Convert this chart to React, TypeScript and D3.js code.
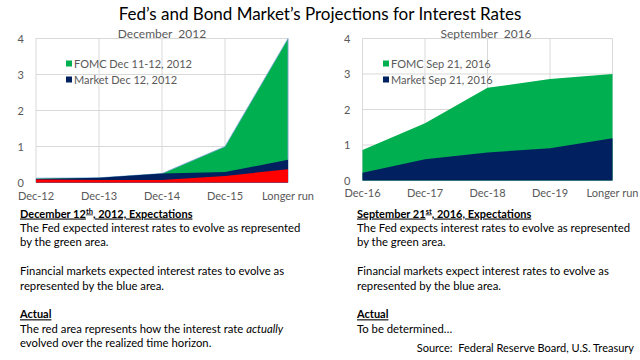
import React, { useEffect, useRef } from "react";
import * as d3 from "d3";

// December 2012 panel
const catsDec2012 = ["Dec-12", "Dec-13", "Dec-14", "Dec-15", "Longer run"];
const fomcDec2012 = [0.12, 0.13, 0.25, 1.0, 4.0];
const marketDec2012 = [0.1, 0.13, 0.25, 0.29, 0.63];
const actualDec2012 = [0.08, 0.07, 0.07, 0.18, 0.37];

// September 2016 panel
const catsSep2016 = ["Dec-16", "Dec-17", "Dec-18", "Dec-19", "Longer run"];
const fomcSep2016 = [0.86, 1.61, 2.61, 2.86, 3.0];
const marketSep2016 = [0.22, 0.6, 0.79, 0.91, 1.19];

const yTicks = [0, 1, 2, 3, 4];

const GREEN = "#00b050";
const NAVY = "#002060";
const RED = "#ff0000";
const FONT = "Lato, 'Open Sans', sans-serif";

function drawPanel(svg, opts) {
  const { left, right, top, bottom, cats, series, subtitle, subX, legend, xLabDy } = opts;
  const g = svg.append("g").attr("class", "panel");

  const x = d3.scalePoint().domain(cats).range([left, right]);
  const y = d3.scaleLinear().domain([0, 4]).range([bottom, top]);

  // grid
  g.selectAll(".hgrid")
    .data(yTicks)
    .enter()
    .append("line")
    .attr("x1", left)
    .attr("x2", right)
    .attr("y1", (d) => y(d))
    .attr("y2", (d) => y(d))
    .attr("stroke", "#d9d9d9")
    .attr("stroke-width", 1);
  g.selectAll(".vgrid")
    .data(cats)
    .enter()
    .append("line")
    .attr("x1", (d) => x(d))
    .attr("x2", (d) => x(d))
    .attr("y1", top)
    .attr("y2", bottom)
    .attr("stroke", "#d9d9d9")
    .attr("stroke-width", 1);

  // areas, drawn back to front (overlapping, not stacked)
  series.forEach((s) => {
    const area = d3
      .area()
      .x((d, i) => x(cats[i]))
      .y0(bottom)
      .y1((d) => y(d));
    g.append("path")
      .datum(s.values)
      .attr("d", area)
      .attr("fill", s.color)
      .attr("stroke", s.stroke || "none")
      .attr("stroke-width", 0.8);
  });

  // y labels
  g.selectAll(".ylab")
    .data(yTicks)
    .enter()
    .append("text")
    .attr("x", left - 12)
    .attr("y", (d) => y(d) + 4)
    .attr("text-anchor", "end")
    .attr("font-size", 11)
    .attr("fill", "#595959")
    .text((d) => d);

  // x labels
  g.selectAll(".xlab")
    .data(cats)
    .enter()
    .append("text")
    .attr("x", (d) => x(d))
    .attr("y", bottom + xLabDy)
    .attr("text-anchor", "middle")
    .attr("font-size", 11)
    .attr("fill", "#595959")
    .text((d) => d);

  g.append("text")
    .attr("x", subX)
    .attr("y", top - 1)
    .attr("text-anchor", "middle")
    .attr("font-size", 12)
    .attr("fill", "#595959")
    .attr("xml:space", "preserve")
    .text(subtitle);

  legend.items.forEach((it, i) => {
    const ly = legend.y + i * 16;
    g.append("rect")
      .attr("x", legend.x)
      .attr("y", ly - 7)
      .attr("width", 6)
      .attr("height", 6)
      .attr("fill", it.color);
    g.append("text")
      .attr("x", legend.x + 8)
      .attr("y", ly)
      .attr("font-size", 11)
      .attr("fill", "#595959")
      .text(it.label);
  });
}

function drawNotes(svg, x0, heading, sup, headingRest, lines) {
  const g = svg.append("g").attr("font-size", 11.3).attr("fill", "#000");
  const lh = 14.4;
  const y0 = 217.5;

  const h = g
    .append("text")
    .attr("x", x0)
    .attr("y", y0)
    .attr("font-size", 11)
    .attr("font-weight", "bold")
    .attr("text-decoration", "underline");
  h.append("tspan").text(heading);
  h.append("tspan").attr("dy", -4).attr("font-size", 7.5).text(sup);
  h.append("tspan").attr("dy", 4).text(headingRest);

  lines.forEach((ln) => {
    const t = g
      .append("text")
      .attr("x", x0)
      .attr("y", y0 + ln.row * lh);
    if (ln.bold) t.attr("font-weight", "bold").attr("font-size", 11).attr("text-decoration", "underline");
    ln.parts.forEach((p) => {
      const sp = t.append("tspan").text(p.text);
      if (p.italic) sp.attr("font-style", "italic");
    });
  });
}

export default function App() {
  const ref = useRef(null);

  useEffect(() => {
    const svg = d3.select(ref.current);
    svg.selectAll("*").remove();
    svg.attr("font-family", FONT);

    svg.append("rect").attr("width", 640).attr("height", 360).attr("fill", "#fff");

    svg.append("text")
      .attr("x", 320)
      .attr("y", 20)
      .attr("text-anchor", "middle")
      .attr("font-size", 17)
      .attr("fill", "#000")
      .text("Fed\u2019s and Bond Market\u2019s Projections for Interest Rates");

    drawPanel(svg, {
      left: 36,
      right: 288,
      top: 38.5,
      bottom: 182.5,
      cats: catsDec2012,
      subtitle: "December  2012",
      subX: 162,
      xLabDy: 17.5,
      series: [
        { values: fomcDec2012, color: GREEN, stroke: "#7fa8dc" },
        { values: marketDec2012, color: NAVY },
        { values: actualDec2012, color: RED },
      ],
      legend: {
        x: 66,
        y: 67.5,
        items: [
          { color: GREEN, label: "FOMC Dec 11-12, 2012" },
          { color: NAVY, label: "Market Dec 12, 2012" },
        ],
      },
    });

    drawPanel(svg, {
      left: 362.5,
      right: 612.5,
      top: 38.5,
      bottom: 180.5,
      cats: catsSep2016,
      subtitle: "September  2016",
      subX: 486,
      xLabDy: 16.5,
      series: [
        { values: fomcSep2016, color: GREEN },
        { values: marketSep2016, color: NAVY },
      ],
      legend: {
        x: 383,
        y: 67.5,
        items: [
          { color: GREEN, label: "FOMC Sep 21, 2016" },
          { color: NAVY, label: "Market Sep 21, 2016" },
        ],
      },
    });

    drawNotes(svg, 20, "December 12", "th", ", 2012, Expectations", [
      { row: 1, parts: [{ text: "The Fed expected interest rates to evolve as represented" }] },
      { row: 2, parts: [{ text: "by the green area." }] },
      { row: 4, parts: [{ text: "Financial markets expected interest rates to evolve as" }] },
      { row: 5, parts: [{ text: "represented by the blue area." }] },
      { row: 7, bold: true, parts: [{ text: "Actual" }] },
      {
        row: 8,
        parts: [
          { text: "The red area represents how the interest rate " },
          { text: "actually", italic: true },
        ],
      },
      { row: 9, parts: [{ text: "evolved over the realized time horizon." }] },
    ]);

    drawNotes(svg, 357, "September 21", "st", ", 2016, Expectations", [
      { row: 1, parts: [{ text: "The Fed expects interest rates to evolve as represented" }] },
      { row: 2, parts: [{ text: "by the green area." }] },
      { row: 4, parts: [{ text: "Financial markets expect interest rates to evolve as" }] },
      { row: 5, parts: [{ text: "represented by the blue area." }] },
      { row: 7, bold: true, parts: [{ text: "Actual" }] },
      { row: 8, parts: [{ text: "To be determined\u2026" }] },
    ]);

    svg.append("text")
      .attr("x", 634)
      .attr("y", 352)
      .attr("text-anchor", "end")
      .attr("font-size", 11)
      .attr("fill", "#000")
      .attr("xml:space", "preserve")
      .text("Source:  Federal Reserve Board, U.S. Treasury");
  }, []);

  return (
    <svg
      ref={ref}
      width={640}
      height={360}
      style={{ position: "absolute", left: 0, top: 0 }}
    />
  );
}
